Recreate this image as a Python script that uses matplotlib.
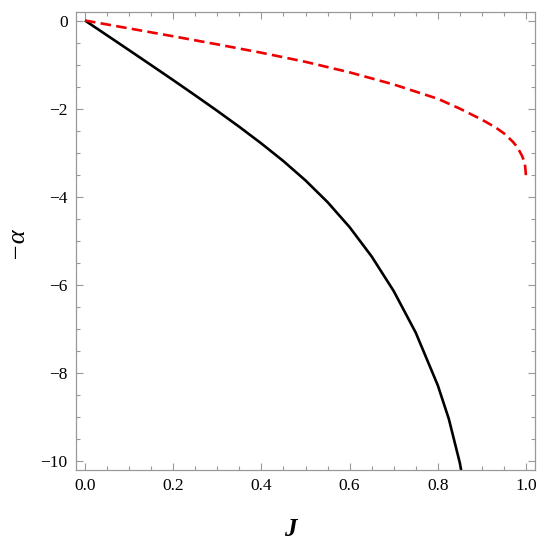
import numpy as np
import matplotlib
matplotlib.use("Agg")
import matplotlib.pyplot as plt
from matplotlib.ticker import MultipleLocator

# Black solid curve
J_black = [0.0, 0.05, 0.1, 0.15, 0.2, 0.25, 0.3, 0.35, 0.4, 0.45, 0.5, 0.55, 0.6,
           0.65, 0.7, 0.75, 0.8, 0.825, 0.85, 0.86]
a_black = [0.0, -0.336, -0.673, -1.012, -1.353, -1.699, -2.051, -2.413, -2.791,
           -3.191, -3.629, -4.121, -4.689, -5.354, -6.139, -7.084, -8.279, -9.041,
           -10.041, -10.60]

# Red dashed curve
J_red = [0.0, 0.2, 0.3, 0.4, 0.5, 0.6, 0.7, 0.8, 0.85, 0.9, 0.93, 0.95, 0.97,
         0.98, 0.99, 0.995, 0.998, 1.0]
a_red = [0.0, -0.358, -0.541, -0.731, -0.938, -1.176, -1.451, -1.776, -2.00,
         -2.25, -2.42, -2.56, -2.75, -2.87, -3.05, -3.17, -3.30, -3.53]

xticks = [0.0, 0.2, 0.4, 0.6, 0.8, 1.0]
xticklabels = ["0.0", "0.2", "0.4", "0.6", "0.8", "1.0"]
yticks = [0, -2, -4, -6, -8, -10]
yticklabels = ["0", "\u22122", "\u22124", "\u22126", "\u22128", "\u221210"]

fig = plt.figure(figsize=(5.5, 5.46), dpi=100)
ax = fig.add_axes([76/550, 1-470/546, (535-76)/550, (470-11.7)/546])

ax.plot(J_black, a_black, color="black", lw=1.9, solid_capstyle="butt",
        solid_joinstyle="round")
ax.plot(J_red, a_red, color="#ee0000", lw=1.9, dashes=(4, 2),
        dash_joinstyle="round")

ax.set_xlim(-0.0204, 1.0204)
ax.set_ylim(-10.2, 0.2)

serif = ["Liberation Serif", "DejaVu Serif"]
ax.set_xticks(xticks)
ax.set_xticklabels(xticklabels, family=serif, fontsize=12.5)
ax.set_yticks(yticks)
ax.set_yticklabels(yticklabels, family=serif, fontsize=12.5)
ax.xaxis.set_minor_locator(MultipleLocator(0.05))
ax.yaxis.set_minor_locator(MultipleLocator(0.5))

gray = "#999999"
for s in ax.spines.values():
    s.set_color(gray)
    s.set_linewidth(0.9)
ax.tick_params(which="both", direction="in", top=True, right=True, color=gray, width=0.8)
ax.tick_params(which="major", length=5, pad=6)
ax.tick_params(which="minor", length=3)

fig.text(290/550, 1-530/546, "J", family=serif, style="italic", weight="bold",
         fontsize=18, ha="center", va="center")
fig.text(16/550, 1-242/546, "\u2212\u03b1", family=serif, style="italic",
         fontsize=19, ha="center", va="center", rotation=90)

fig.savefig("out.png", dpi=100)
